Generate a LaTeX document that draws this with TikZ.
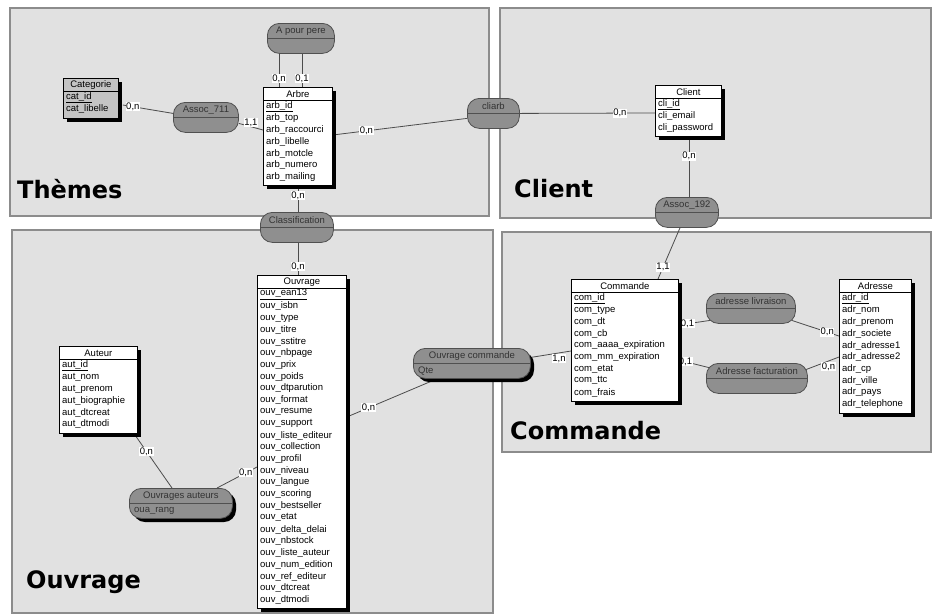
\documentclass[tikz,border=0pt]{standalone}
\usepackage{fontspec}
\setmainfont{Liberation Sans}
\newfontfamily\panelfont{DejaVu Sans}
\usetikzlibrary{calc,backgrounds}
\definecolor{panelgray}{HTML}{E1E1E1}
\definecolor{panelline}{HTML}{8C8C8C}
\definecolor{assocgray}{HTML}{8F8F8F}
\definecolor{assocline}{HTML}{505050}
\definecolor{catgray}{HTML}{C4C4C4}
\definecolor{linkgray}{HTML}{4C4C4C}

\begin{document}
\begin{tikzpicture}[x=1pt,y=-1pt,
  small/.style={font=\fontsize{9.5}{11}\selectfont},
  panel/.style={fill=panelgray,draw=panelline,line width=1.2pt},
  panel title/.style={anchor=base west,inner sep=0pt,font=\panelfont\bfseries\fontsize{24}{24}\selectfont},
  entity/.style={draw=black,line width=.8pt,inner sep=0pt,anchor=north west},
  attr/.style={small,anchor=west,inner sep=0pt},
  assoc/.style={draw=assocline,fill=assocgray,line width=.8pt,rounded corners=12pt,
    minimum height=30,inner sep=0pt,anchor=north west},
  link/.style={draw=linkgray,line width=.8pt},
  card/.style={small,fill=white,inner sep=.6pt}]
 % domain panels
 \begin{scope}[on background layer]
  \fill[white] (0,0) rectangle (933,614);
  \draw[panel] (10,8) rectangle (489,216);
  \draw[panel] (500,8) rectangle (931,218);
  \draw[panel] (12,230) rectangle (493,613);
  \draw[panel] (502,232) rectangle (931,452);
 \end{scope}
 \useasboundingbox (0,0) rectangle (933,614);
 \node[panel title] (themestitle) at (17,198) {Thèmes};
 \node[panel title] (clienttitle) at (514,197) {Client};
 \node[panel title] (ouvragetitle) at (26,588) {Ouvrage};
 \node[panel title] (commandetitle) at (510,439) {Commande};
 % entities
 \foreach \ent/\ex/\ey/\ew/\en/\efill/\etitle/\erows in {
   categorie/63/78/55/2/catgray/Categorie/{cat\_id,cat\_libelle},
   arbre/263/87/69/7/white/Arbre/{arb\_id,arb\_top,arb\_raccourci,arb\_libelle,arb\_motcle,arb\_numero,arb\_mailing},
   client/655/85/66/3/white/Client/{cli\_id,cli\_email,cli\_password},
   auteur/59/346/78/6/white/Auteur/{aut\_id,aut\_nom,aut\_prenom,aut\_biographie,aut\_dtcreat,aut\_dtmodi},
   ouvrage/257/275/89/27/white/Ouvrage/{ouv\_ean13,ouv\_isbn,ouv\_type,ouv\_titre,ouv\_sstitre,ouv\_nbpage,ouv\_prix,ouv\_poids,ouv\_dtparution,ouv\_format,ouv\_resume,ouv\_support,ouv\_liste\_editeur,ouv\_collection,ouv\_profil,ouv\_niveau,ouv\_langue,ouv\_scoring,ouv\_bestseller,ouv\_etat,ouv\_delta\_delai,ouv\_nbstock,ouv\_liste\_auteur,ouv\_num\_edition,ouv\_ref\_editeur,ouv\_dtcreat,ouv\_dtmodi},
   commande/571/279/107/9/white/Commande/{com\_id,com\_type,com\_dt,com\_cb,com\_aaaa\_expiration,com\_mm\_expiration,com\_etat,com\_ttc,com\_frais},
   adresse/839/279/72/10/white/Adresse/{adr\_id,adr\_nom,adr\_prenom,adr\_societe,adr\_adresse1,adr\_adresse2,adr\_cp,adr\_ville,adr\_pays,adr\_telephone}}
 {\pgfmathsetmacro\entH{16+\en*11.75}
  \fill[black] (\ex+4,\ey+4) rectangle ++(\ew,\entH);
  \node[entity,fill=\efill,minimum width=\ew,minimum height=\entH] (\ent) at (\ex,\ey) {};
  \draw[line width=.8pt] ($(\ent.north west)+(0,13.5)$) -- ($(\ent.north east)+(0,13.5)$);
  \node[small] at ($(\ent.north)+(0,7)$) {\etitle};
  \foreach \row [count=\i] in \erows
   {\node[attr] at ($(\ent.north west)+(3,7.75+\i*11.75)$) {\ifnum\i=1 \underline{\row}\else \row\fi};}
 }
 % associations
 \foreach \as/\ax/\ay/\aw/\ash/\atitle in {
   apourpere/267/23/67/0/A pour pere,
   assoc711/173/102/65/0/Assoc\_711,
   cliarb/467/98/52/0/cliarb,
   classification/260/212/73/0/Classification,
   assoc192/655/197/63/0/Assoc\_192,
   ouvragesauteurs/129/488/103/1/Ouvrages auteurs,
   ouvragecommande/413/348/117/1/Ouvrage commande,
   adresselivraison/706/293/89/0/adresse livraison,
   adressefacturation/706/363/101/0/Adresse facturation}
 {\ifnum\ash=1 \fill[black,rounded corners=12pt] (\ax+4,\ay+4) rectangle ++(\aw,30);\fi
  \node[assoc,minimum width=\aw] (\as) at (\ax,\ay) {};
  \draw[assocline,line width=.8pt] ($(\as.north west)+(0,15)$) -- ($(\as.north east)+(0,15)$);
  \node[small,text=black!80] at ($(\as.north)+(0,8)$) {\atitle};
 }
 \node[attr,text=black!80] (ouarang) at ($(ouvragesauteurs.north west)+(5,23)$) {oua\_rang};
 \node[attr,text=black!80] (qte) at ($(ouvragecommande.north west)+(5,23)$) {Qte};
 % links
 \begin{scope}[on background layer]
  \draw[link] ($(categorie.north east)+(4,27)$) -- node[card,pos=.2]{0,n} ($(assoc711.west)+(0,-4)$);
  \draw[link] ($(assoc711.east)+(0,6)$) -- node[card,pos=.5,above=-1pt]{1,1} ($(arbre.north west)+(0,43)$);
  \draw[link] ($(apourpere.south west)+(12,0)$) -- node[card,pos=.74]{0,n} ($(arbre.north west)+(16,0)$);
  \draw[link] ($(apourpere.south west)+(35,0)$) -- node[card,pos=.74]{0,1} ($(arbre.north west)+(39,0)$);
  \draw[link] ($(arbre.north east)+(0,48)$) -- node[card,pos=.25]{0,n} ($(cliarb.west)+(0,5)$);
  \draw[link] (cliarb.east) -- node[card,pos=.74]{0,n} ($(client.north west)+(0,28)$);
  \draw[link] ($(client.south west)+(34,0)$) -- node[card,pos=.32]{0,n} ($(assoc192.north west)+(34,0)$);
  \draw[link] ($(assoc192.south west)+(25,0)$) -- node[card,pos=.77]{1,1} ($(commande.north west)+(87,0)$);
  \draw[link] ($(arbre.south west)+(35,0)$) -- node[card,pos=.38]{0,n} ($(classification.north west)+(38,0)$);
  \draw[link] ($(classification.south west)+(38,0)$) -- node[card,pos=.73]{0,n} ($(ouvrage.north west)+(41,0)$);
  \draw[link] ($(auteur.south east)+(-4,0)$) -- node[card,pos=.33]{0,n} ($(ouvragesauteurs.north west)+(43,0)$);
  \draw[link] ($(ouvragesauteurs.north west)+(88,0)$) -- node[card,pos=.72]{0,n} ($(ouvrage.north west)+(0,192)$);
  \draw[link] ($(ouvrage.north east)+(0,142)$) -- node[card,pos=.24]{0,n} ($(ouvragecommande.south west)+(24,0)$);
  \draw[link] ($(ouvragecommande.east)+(0,-6)$) -- node[card,pos=.7,below=1pt]{1,n} ($(commande.north west)+(0,72)$);
  \draw[link] ($(commande.north east)+(0,46)$) -- node[card,pos=.28]{0,1} ($(adresselivraison.west)+(4,12)$);
  \draw[link] ($(adresselivraison.east)+(-4,12)$) -- node[card,pos=.75]{0,n} ($(adresse.north west)+(0,57)$);
  \draw[link] ($(commande.north east)+(0,81)$) -- node[card,pos=.2]{0,1} ($(adressefacturation.west)+(6,-10)$);
  \draw[link] ($(adressefacturation.east)+(-4,-8)$) -- node[card,pos=.7,below=1pt]{0,n} ($(adresse.north west)+(0,78)$);
 \end{scope}
\end{tikzpicture}
\end{document}
